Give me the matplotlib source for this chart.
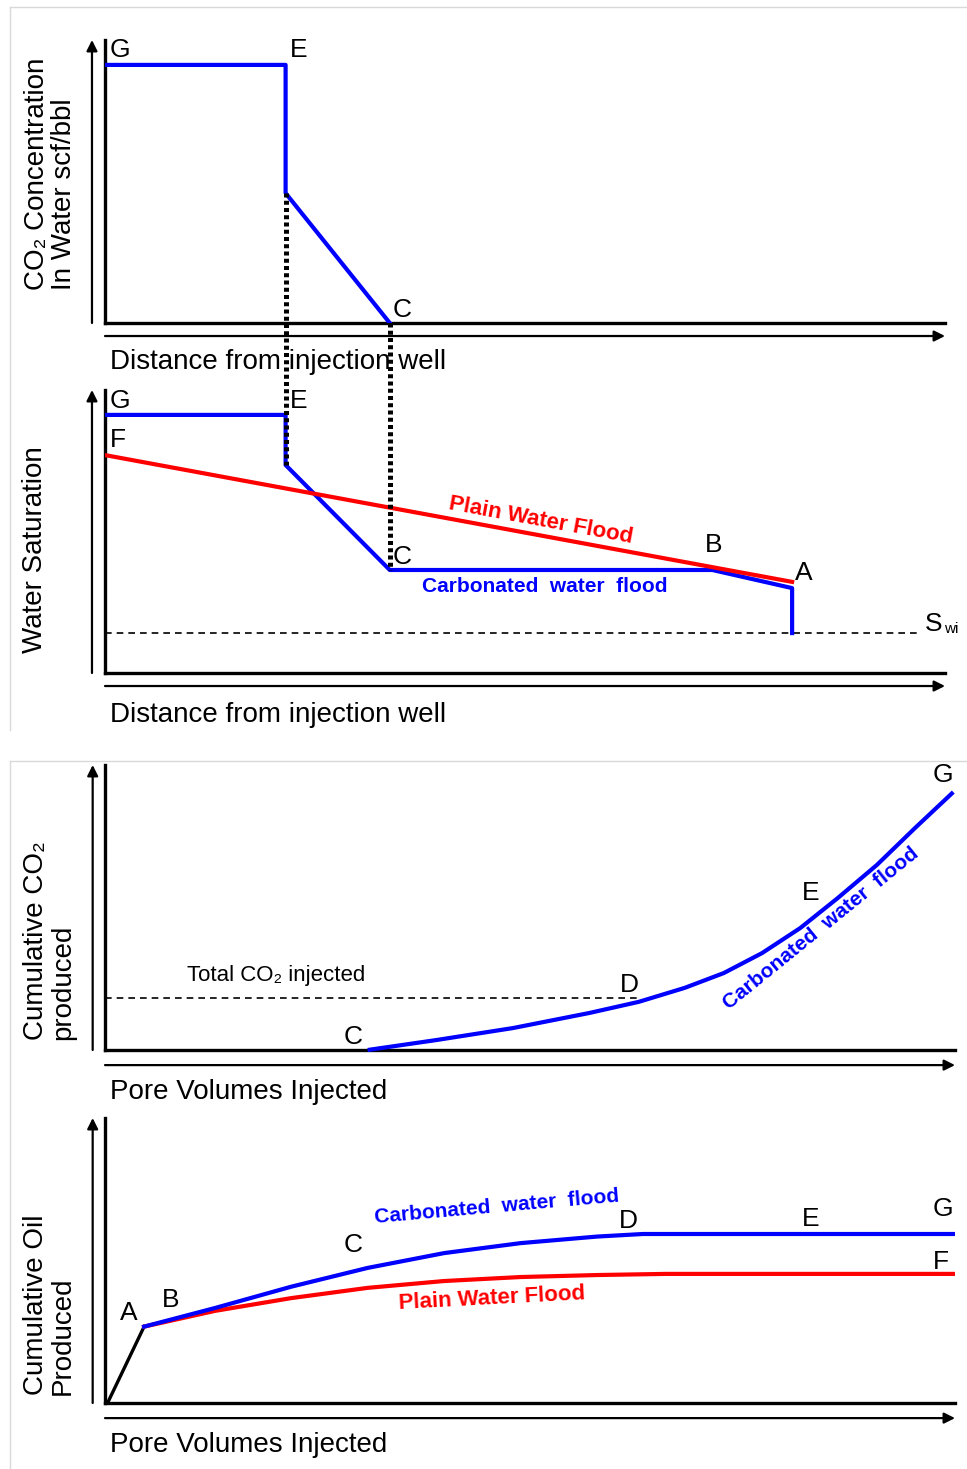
import matplotlib
matplotlib.use("Agg")
import matplotlib.pyplot as plt
from matplotlib.lines import Line2D

plt.rcParams['font.family'] = ['Liberation Sans', 'DejaVu Sans']

BLUE = '#0000ff'
RED = '#ff0000'

# --- panel 1: CO2 concentration vs distance (x, y in % of axis) ---
co2_x = [0, 21.5, 21.5, 33.9]
co2_y = [91.2, 91.2, 45.9, 0]

# --- panel 2: water saturation vs distance ---
carb_sw_x = [0, 21.5, 21.5, 33.9, 72.3, 81.8, 81.8]
carb_sw_y = [91.2, 91.2, 73.5, 36.4, 36.4, 30.0, 14.1]
plain_sw_x = [0, 81.8]
plain_sw_y = [77.0, 32.2]
swi = 14.1

# --- panel 3: cumulative CO2 produced vs PV injected ---
co2_prod_x = [30.9, 39.0, 48.0, 57.0, 62.8, 68.2, 72.8, 77.3, 81.8, 86.2, 90.8, 95.3, 99.8]
co2_prod_y = [0, 3.5, 7.7, 13.0, 16.9, 21.8, 27.0, 34.0, 42.8, 53.3, 64.9, 77.9, 90.5]
total_co2 = 18.2
total_co2_end = 62.8

# --- panel 4: cumulative oil produced vs PV injected ---
oil_start_x = [0.3, 4.6]
oil_start_y = [0, 26.8]
carb_oil_x = [4.6, 12.9, 21.9, 30.9, 39.9, 48.9, 57.9, 63.3, 100]
carb_oil_y = [26.8, 33.3, 40.8, 47.4, 52.6, 56.1, 58.4, 59.3, 59.3]
plain_oil_x = [4.6, 12.9, 21.9, 30.9, 39.9, 48.9, 57.9, 66.0, 100]
plain_oil_y = [26.8, 32.3, 36.8, 40.4, 42.8, 44.2, 44.9, 45.3, 45.3]

W, H = 967, 1469
fig = plt.figure(figsize=(W / 100, H / 100), dpi=100)


def make_axes(left, right, top, bottom):
    ax = fig.add_axes([left / W, 1 - bottom / H, (right - left) / W, (bottom - top) / H])
    ax.set_xlim(0, 100)
    ax.set_ylim(0, 100)
    for s in ('top', 'right'):
        ax.spines[s].set_visible(False)
    for s in ('left', 'bottom'):
        ax.spines[s].set_linewidth(2.4)
    ax.set_xticks([])
    ax.set_yticks([])
    ax.patch.set_alpha(0)
    return ax


def axis_arrows(ax, dx, dy):
    ap = dict(arrowstyle='-|>', lw=1.6, color='black', mutation_scale=16, shrinkA=0, shrinkB=0)
    ax.annotate('', xy=(-dx, 100), xytext=(-dx, 0), arrowprops=ap, annotation_clip=False)
    ax.annotate('', xy=(100, -dy), xytext=(0, -dy), arrowprops=ap, annotation_clip=False)


def label(ax, x, y, s, size=19, **kw):
    ax.text(x, y, s, fontsize=size, ha='left', va='center', clip_on=False, **kw)


def ylabel_block(ax, x, y, s):
    ax.text(x, y, s, fontsize=20, rotation=90, rotation_mode='anchor', ha='left', va='center',
            multialignment='left', linespacing=1.05, clip_on=False)


# panel 1
ax1 = make_axes(105, 945, 40, 323)
axis_arrows(ax1, 1.55, 4.6)
ax1.plot(co2_x, co2_y, color=BLUE, lw=3, zorder=3)
label(ax1, 0.6, 96.5, 'G')
label(ax1, 22.0, 96.5, 'E')
label(ax1, 34.3, 4.6, 'C')
label(ax1, 0.6, -13.8, 'Distance from injection well', size=20)
ylabel_block(ax1, -6.5, 11.7, 'CO\u2082 Concentration\nIn Water scf/bbl')

# panel 2
ax2 = make_axes(105, 945, 390, 673)
axis_arrows(ax2, 1.55, 4.6)
ax2.axhline(swi, xmin=0, xmax=0.97, color='black', lw=1.2, ls=(0, (4, 3)))
ax2.plot(carb_sw_x, carb_sw_y, color=BLUE, lw=3, zorder=3)
ax2.plot(plain_sw_x, plain_sw_y, color=RED, lw=3, zorder=4)
label(ax2, 0.6, 96.1, 'G')
label(ax2, 22.0, 96.1, 'E')
label(ax2, 0.6, 82.3, 'F')
label(ax2, 34.3, 41.0, 'C')
label(ax2, 71.4, 45.2, 'B')
label(ax2, 82.1, 35.3, 'A')
label(ax2, 97.6, 17.3, 'S')
label(ax2, 99.9, 15.6, 'wi', size=11)
ax2.text(51.9, 53.7, 'Plain Water Flood', color=RED, fontsize=16, fontweight='bold',
         rotation=-10.5, ha='center', va='center', rotation_mode='anchor')
ax2.text(52.4, 30.4, 'Carbonated  water  flood', color=BLUE, fontsize=15, fontweight='bold',
         ha='center', va='center')
label(ax2, 0.6, -14.8, 'Distance from injection well', size=20)
ax2.text(-8.3, 43.5, 'Water Saturation', fontsize=20, rotation=90, ha='center', va='center',
         clip_on=False)

# dotted drop lines linking panel 1 to panel 2
to_ax2 = ax1.transData + ax2.transData.inverted()
for (x, y1), y2 in zip([(co2_x[2], co2_y[2]), (co2_x[3], co2_y[3])], [carb_sw_y[2], carb_sw_y[3]]):
    top_y = to_ax2.transform((x, y1))[1]
    ax2.plot([x, x], [top_y, y2], color='black', lw=3.6, ls=(0, (0.8, 0.65)),
             dash_capstyle='butt', clip_on=False, zorder=5)

# panel 3
ax3 = make_axes(105, 955, 765, 1050)
axis_arrows(ax3, 1.45, 5.3)
ax3.plot([0, total_co2_end], [total_co2, total_co2], color='black', lw=1.2, ls=(0, (4, 3)))
ax3.plot(co2_prod_x, co2_prod_y, color=BLUE, lw=3, zorder=3, clip_on=False,
         solid_joinstyle='round', solid_capstyle='butt')
label(ax3, 28.1, 4.6, 'C')
label(ax3, 60.6, 22.8, 'D')
label(ax3, 82.0, 55.1, 'E')
label(ax3, 97.4, 96.5, 'G')
label(ax3, 9.6, 26.0, 'Total CO\u2082 injected', size=16)
ax3.text(84.2, 42.5, 'Carbonated  water  flood', color=BLUE, fontsize=15, fontweight='bold',
         rotation=39, ha='center', va='center', rotation_mode='anchor')
label(ax3, 0.6, -14.7, 'Pore Volumes Injected', size=20)
ylabel_block(ax3, -6.5, 3.5, 'Cumulative CO\u2082\nproduced')

# panel 4
ax4 = make_axes(105, 955, 1118, 1403)
axis_arrows(ax4, 1.45, 5.3)
ax4.plot(oil_start_x, oil_start_y, color='black', lw=2.4, zorder=3)
ax4.plot(plain_oil_x, plain_oil_y, color=RED, lw=3, zorder=3, solid_joinstyle='round')
ax4.plot(carb_oil_x, carb_oil_y, color=BLUE, lw=3, zorder=4, solid_joinstyle='round')
label(ax4, 1.8, 31.6, 'A')
label(ax4, 6.7, 36.1, 'B')
label(ax4, 28.1, 55.4, 'C')
label(ax4, 60.4, 63.9, 'D')
label(ax4, 82.0, 64.6, 'E')
label(ax4, 97.4, 68.1, 'G')
label(ax4, 97.4, 49.5, 'F')
ax4.text(46.1, 68.8, 'Carbonated  water  flood', color=BLUE, fontsize=15, fontweight='bold',
         rotation=5, ha='center', va='center', rotation_mode='anchor')
ax4.text(45.5, 36.5, 'Plain Water Flood', color=RED, fontsize=16, fontweight='bold',
         rotation=3, ha='center', va='center', rotation_mode='anchor')
label(ax4, 0.6, -14.7, 'Pore Volumes Injected', size=20)
ylabel_block(ax4, -6.5, 2.8, 'Cumulative Oil\nProduced')

# light frame edges of the two picture parts
for top_px in (7, 761):
    fig.add_artist(Line2D([10 / W, 1], [1 - top_px / H] * 2, color='#d9d9d9', lw=1))
fig.add_artist(Line2D([10 / W] * 2, [1 - 7 / H, 1 - 730 / H], color='#d9d9d9', lw=1))
fig.add_artist(Line2D([10 / W] * 2, [1 - 761 / H, 0], color='#d9d9d9', lw=1))

fig.savefig('out.png', dpi=100)
